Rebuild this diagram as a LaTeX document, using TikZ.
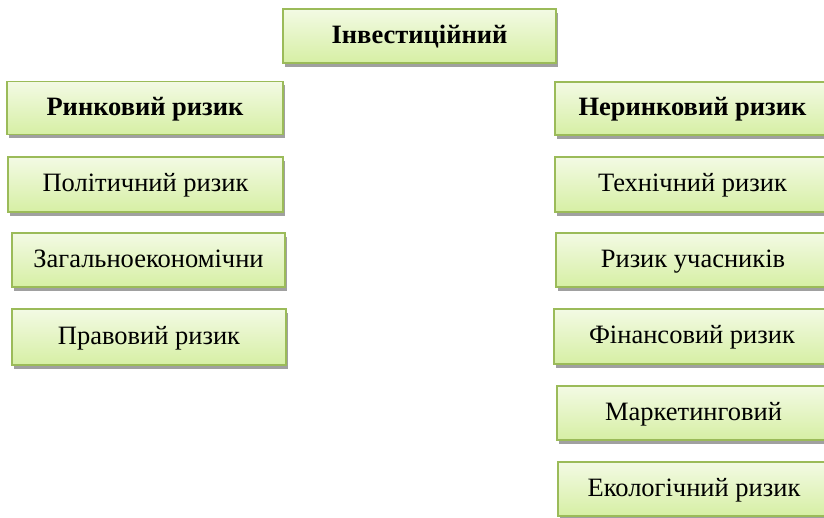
\documentclass[tikz,border=0pt]{standalone}
\usepackage{fontspec}
\setmainfont{Liberation Serif}
\usetikzlibrary{shadows}
\definecolor{boxborder}{HTML}{9BBB59}
\definecolor{boxtop}{HTML}{F3FAE4}
\definecolor{boxbot}{HTML}{D6EFA4}
\definecolor{shadowgray}{HTML}{A0A0A0}
\tikzset{
  riskbox/.style={draw=boxborder, line width=1.3pt, top color=boxtop, bottom color=boxbot,
    inner sep=0pt, font=\fontsize{26.5}{30}\selectfont, text height=20pt, text depth=5.4pt,
    drop shadow={shadow xshift=2pt, shadow yshift=-3.5pt, fill=shadowgray, opacity=1}},
  headbox/.style={riskbox, font=\fontsize{26.5}{30}\selectfont\bfseries}
}
\begin{document}
\begin{tikzpicture}[x=1pt,y=-1pt]
\useasboundingbox (0,0) rectangle (824,517);
\clip (0,0) rectangle (824,517);
\node[headbox, minimum width=273pt, minimum height=54pt] (inv) at (419.5,36) {Інвестиційний};
\node[headbox, minimum width=276pt, minimum height=53pt] (rink) at (145,108) {Ринковий ризик};
\node[riskbox, minimum width=275pt, minimum height=55pt] (polit) at (145.5,184.5) {Політичний ризик};
\node[riskbox, minimum width=273pt, minimum height=54pt] (zah) at (148.5,260) {Загальноекономічни};
\node[riskbox, minimum width=274pt, minimum height=56pt] (prav) at (149,337) {Правовий ризик};
\node[headbox, minimum width=275pt, minimum height=53pt] (nerink) at (692.5,108.5) {Неринковий ризик};
\node[riskbox, minimum width=275pt, minimum height=55pt] (tech) at (692.5,184.5) {Технічний ризик};
\node[riskbox, minimum width=274pt, minimum height=54pt] (uchas) at (693,260) {Ризик учасників};
\node[riskbox, minimum width=276pt, minimum height=55pt] (fin) at (692,336.5) {Фінансовий ризик};
\node[riskbox, minimum width=273pt, minimum height=54pt] (mark) at (693.5,413) {Маркетинговий};
\node[riskbox, minimum width=272pt, minimum height=54pt] (ekol) at (694,489) {Екологічний ризик};
\end{tikzpicture}
\end{document}
